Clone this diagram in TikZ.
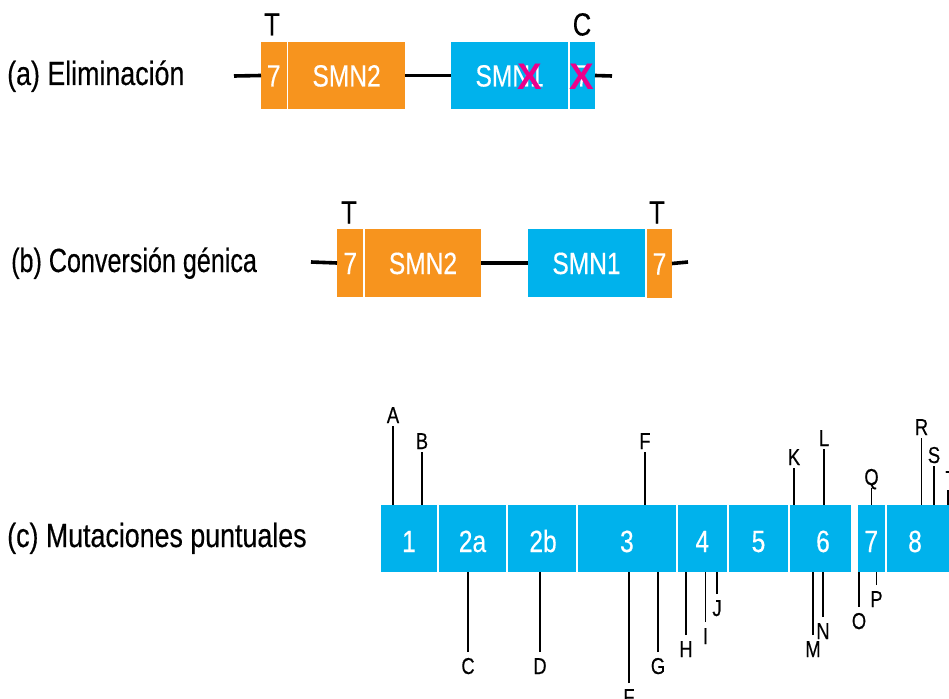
\documentclass[tikz,border=0pt]{standalone}
\usepackage{fontspec}
\setmainfont{Liberation Sans}[FakeStretch=0.8, FakeBold=0.35]
\newfontfamily\narrowsans{Liberation Sans}[FakeStretch=0.75, FakeBold=0.35]
\newfontfamily\crossfont{Liberation Sans Bold}
\definecolor{smnorange}{RGB}{247,148,30}
\definecolor{smnblue}{RGB}{0,178,236}
\definecolor{smnmagenta}{RGB}{236,0,140}
\tikzset{
  x=1pt, y=-1pt,
  rowlabel/.style={anchor=west, inner sep=0pt, text height=24pt, text depth=0pt,
    font=\fontsize{33.5}{40}\selectfont},
  basetag/.style={inner sep=0pt, text height=23pt, text depth=0pt,
    font=\fontsize{32}{38}\selectfont},
  genebox/.style={inner sep=0pt, outer sep=0pt, draw=none, text=white,
    text height=22pt, text depth=0pt, font=\fontsize{30.7}{36}\selectfont},
  exonbox/.style={genebox, fill=smnblue, text height=27pt},
  chrom/.style={line width=3.6pt},
  cross/.style={inner sep=0pt, text=smnmagenta, text height=27pt, text depth=0pt,
    font=\fontsize{37}{44}\crossfont},
  mutlab/.style={inner sep=0pt, text height=16.5pt, text depth=0pt,
    font=\fontsize{23}{28}\selectfont},
  mutup/.style={mutlab, anchor=south, outer ysep=3pt},
  mutdown/.style={mutlab, anchor=north, outer ysep=5.5pt},
  tick/.style={line width=1.8pt}
}
% \genebox{name}{x1}{y1}{x2}{y2}{style}{text}
\newcommand\genebox[7]{%
  \node[#6, minimum width={#4-#2}, minimum height={#5-#3}]
    (#1) at ({(#2+#4)/2},{(#3+#5)/2}) {#7};}
% \mutabove{name}{label}{x}{top of line}{exon}
\newcommand\mutabove[5]{%
  \node[mutup] (#1) at (#3,#4) {#2};
  \draw[tick] (#1.south) -- (#1.south |- #5.north);}
% \mutbelow{name}{label}{x}{bottom of line}{exon}
\newcommand\mutbelow[5]{%
  \node[mutdown] (#1) at (#3,#4) {#2};
  \draw[tick] (#1.north) -- (#1.north |- #5.south);}
\begin{document}
\begin{tikzpicture}
\useasboundingbox (0,0) rectangle (949,698);

% ---- (a) deletion ----
\node[rowlabel] (la) at (7,73) {(a) Eliminación};
\coordinate (a0) at (234,76);
\coordinate (a1) at (612,76);
\genebox{a7}{261}{42}{286.5}{109}{genebox, fill=smnorange}{7}
\genebox{a2}{288.2}{42}{405}{109}{genebox, fill=smnorange}{SMN2}
\genebox{a1b}{451}{42}{568.3}{109}{genebox, fill=smnblue}{SMN1}
\genebox{a7b}{570}{42}{595}{109}{genebox, fill=smnblue}{7}
\draw[chrom] (a0) -- (a7.west);
\draw[chrom] (a2.east) -- (a1b.west);
\draw[chrom] (a7b.east) -- (a1);
\node[cross] (xa) at (530,76.5) {X};
\node[cross] (xb) at (582,76.5) {X};
\node[basetag] (ta) at (272,24) {T};
\node[basetag] (ca) at (582,24) {C};

% ---- (b) gene conversion ----
\node[rowlabel, font=\fontsize{33.5}{40}\narrowsans] (lb) at (11,260) {(b) Conversión génica};
\coordinate (b0) at (311,262);
\coordinate (b1) at (688,262);
\genebox{b7}{337}{229}{363.3}{297}{genebox, fill=smnorange}{7}
\genebox{b2}{365}{229}{481}{297}{genebox, fill=smnorange}{SMN2}
\genebox{b1b}{528}{229}{645}{297}{genebox, fill=smnblue}{SMN1}
\genebox{b7b}{647}{229}{672}{298}{genebox, fill=smnorange}{7}
\draw[chrom] (b0) -- (b7.west);
\draw[chrom] (b2.east) -- (b1b.west);
\draw[chrom] (b7b.east) -- (b1);
\node[basetag] (tb) at (349,212) {T};
\node[basetag] (tc) at (657,212) {T};

% ---- (c) point mutations ----
\node[rowlabel] (lc) at (7,535) {(c) Mutaciones puntuales};
\genebox{e1}{381}{505}{437}{572}{exonbox}{1}
\genebox{e2a}{439}{505}{506}{572}{exonbox}{2a}
\genebox{e2b}{508}{505}{576}{572}{exonbox}{\hspace*{2pt}2b}
\genebox{e3}{578}{505}{675.8}{572}{exonbox}{3}
\genebox{e4}{677.6}{505}{727}{572}{exonbox}{4}
\genebox{e5}{729}{505}{788}{572}{exonbox}{5}
\genebox{e6}{790}{505}{851}{572}{exonbox}{\hspace*{5pt}6}
\genebox{e7}{858}{505}{884.5}{572}{exonbox}{7}
\node[exonbox, minimum width=62, minimum height=67, anchor=north west]
  (e8) at (886.5,505) {\hspace*{-5pt}8};

\mutabove{mA}{A}{393}{426}{e1}
\mutabove{mB}{B}{422}{452}{e1}
\mutabove{mF}{F}{645}{452}{e3}
\mutabove{mK}{K}{794}{468}{e6}
\mutabove{mL}{L}{824}{449}{e6}
\mutabove{mQ}{Q}{871.5}{488}{e7}
\mutabove{mR}{R}{921.5}{438}{e8}
\mutabove{mS}{S}{934}{466}{e8}
\node[mutup] (mT) at (951,490) {T};
\draw[tick] (948,490) -- (948,505);

\mutbelow{mC}{C}{468}{652}{e2a}
\mutbelow{mD}{D}{540}{652}{e2b}
\mutbelow{mFb}{F}{629}{683}{e3}
\mutbelow{mG}{G}{658}{652}{e3}
\mutbelow{mH}{H}{686}{635}{e4}
\mutbelow{mI}{I}{705.5}{622}{e4}
\mutbelow{mJ}{J}{717}{594}{e4}
\mutbelow{mM}{M}{813}{635}{e6}
\mutbelow{mN}{N}{823}{617}{e6}
\mutbelow{mO}{O}{859}{607}{e7}
\mutbelow{mP}{P}{876.5}{585}{e7}
\end{tikzpicture}
\end{document}
